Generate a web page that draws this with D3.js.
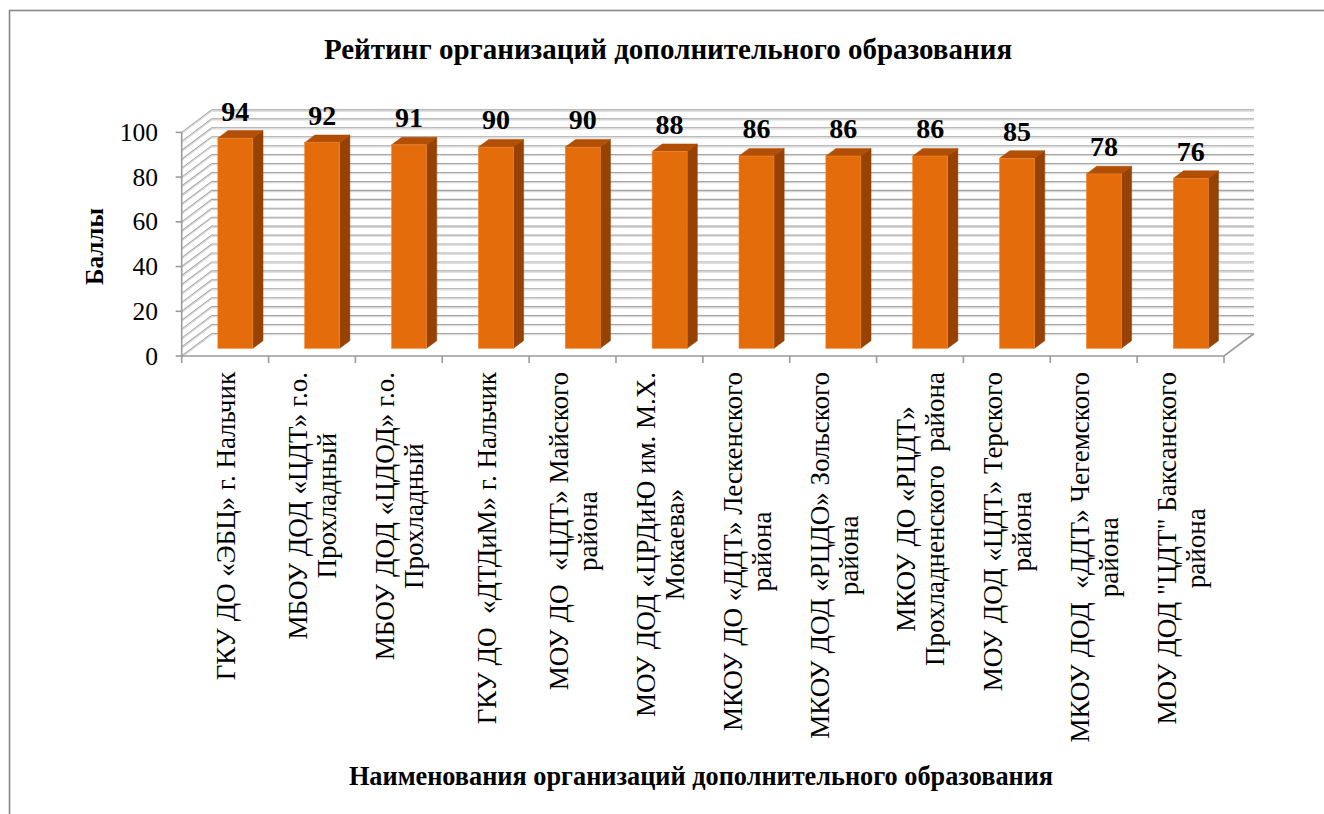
<!DOCTYPE html>
<html><head><meta charset="utf-8">
<script src="https://cdn.jsdelivr.net/npm/d3@7"></script>
<style>body{margin:0;background:#fff}</style>
</head><body><svg id="c" width="1324" height="814"></svg>
<script>
const categories = [
  "ГКУ ДО «ЭБЦ» г. Нальчик",
  "МБОУ ДОД «ЦДТ» г.о.\nПрохладный",
  "МБОУ ДОД «ЦДОД» г.о.\nПрохладный",
  "ГКУ ДО  «ДТДиМ» г. Нальчик",
  "МОУ ДО  «ЦДТ» Майского\nрайона",
  "МОУ ДОД «ЦРДиЮ им. М.Х.\nМокаева»",
  "МКОУ ДО «ДДТ» Лескенского\nрайона",
  "МКОУ ДОД «РЦДО» Зольского\nрайона",
  "МКОУ ДО «РЦДТ»\nПрохладненского  района",
  "МОУ ДОД «ЦДТ» Терского\nрайона",
  "МКОУ ДОД  «ДДТ» Чегемского\nрайона",
  "МОУ ДОД \"ЦДТ\" Баксанского\nрайона"
];
const values = [94, 92, 91, 90, 90, 88, 86, 86, 86, 85, 78, 76];
const yTicks = [0, 20, 40, 60, 80, 100];
const gridStep = 4;
const title = "Рейтинг организаций дополнительного образования";
const xTitle = "Наименования организаций дополнительного образования";
const yTitle = "Баллы";

const svg = d3.select("#c").attr("font-family", "'Liberation Serif'");
const X0 = 181.7, X1 = 1224, Y0 = 356, Y100 = 132.4;
const DX = 30, DY = -22.5;
const F1 = 0.34, F2 = 0.68;
const BW = 35;

const x = d3.scaleBand().domain(d3.range(categories.length)).range([X0, X1]).padding(0);
const y = d3.scaleLinear().domain([0, 100]).range([Y0, Y100]);

svg.append("rect").attr("x", 9.5).attr("y", 10.5).attr("width", 1340).attr("height", 900)
  .attr("fill", "none").attr("stroke", "#878787").attr("stroke-width", 1.6);

const gridVals = d3.range(0, 100 + 0.001, gridStep);
const g = svg.append("g");
gridVals.forEach(v => {
  const yf = y(v), yb = y(v) + DY;
  [[0, "#a4a4a4"], [1.2, "#d6d6d6"]].forEach(([o, c]) => {
    g.append("path").attr("d", `M${X0},${yf + o}L${X0 + DX},${yb + o}L${X1 + DX},${yb + o}`)
      .attr("fill", "none").attr("stroke", c).attr("stroke-width", 1.1);
  });
});
g.append("path").attr("d", `M${X0},${Y0}L${X1},${Y0}L${X1 + DX},${Y0 + DY}`)
  .attr("fill", "none").attr("stroke", "#9a9a9a").attr("stroke-width", 1.6);
g.append("line").attr("x1", X0).attr("x2", X0).attr("y1", Y100).attr("y2", Y0)
  .attr("stroke", "#9a9a9a").attr("stroke-width", 1.6);
yTicks.forEach(v => {
  g.append("line").attr("x1", X0 - 6).attr("x2", X0).attr("y1", y(v)).attr("y2", y(v))
    .attr("stroke", "#9a9a9a").attr("stroke-width", 1.6);
  svg.append("text").attr("x", 158).attr("y", y(v) + 8.5).attr("text-anchor", "end")
    .attr("font-size", 25.5).attr("fill", "#000").text(v);
});
d3.range(categories.length + 1).forEach(i => {
  const xx = X0 + i * x.step();
  g.append("line").attr("x1", xx).attr("x2", xx).attr("y1", Y0).attr("y2", Y0 + 7)
    .attr("stroke", "#9a9a9a").attr("stroke-width", 1.6);
});

const bars = svg.append("g");
values.forEach((v, i) => {
  const cx = x(i) + x.bandwidth() / 2;
  const fx = cx - BW / 2 + F1 * DX;
  const yB = y(0) + F1 * DY, yT = y(v) + F1 * DY;
  const bdx = (F2 - F1) * DX, bdy = (F2 - F1) * DY;
  bars.append("polygon").attr("points", [[fx + BW, yB], [fx + BW + bdx, yB + bdy], [fx + BW + bdx, yT + bdy], [fx + BW, yT]].join(" "))
    .attr("fill", "#974202").attr("stroke", "#8a3c02").attr("stroke-width", 0.5);
  bars.append("polygon").attr("points", [[fx, yT], [fx + bdx, yT + bdy], [fx + BW + bdx, yT + bdy], [fx + BW, yT]].join(" "))
    .attr("fill", "#b34f05").attr("stroke", "#a84a04").attr("stroke-width", 0.5);
  bars.append("rect").attr("x", fx).attr("y", yT).attr("width", BW).attr("height", yB - yT)
    .attr("fill", "#e46c0a").attr("stroke", "#f08a3a").attr("stroke-width", 0.6);
  svg.append("text").attr("x", fx + BW / 2).attr("y", yT + bdy - 10).attr("text-anchor", "middle")
    .attr("font-size", 28).attr("font-weight", "bold").attr("fill", "#000").text(v);
});

const FS = 27, LH = 29;
categories.forEach((c, i) => {
  const cx = x(i) + x.bandwidth() / 2;
  const lines = c.split("\n");
  const grp = svg.append("g").attr("transform", `translate(${cx},372) rotate(-90)`);
  const ts = lines.map((l, k) => grp.append("text").attr("text-anchor", "end")
    .attr("font-size", FS).attr("fill", "#000").style("white-space", "pre")
    .attr("y", 10 + (k - (lines.length - 1) / 2) * LH).text(l));
  const lens = ts.map(t => t.node().getComputedTextLength());
  const mx = d3.max(lens);
  ts.forEach((t, k) => t.attr("x", -(mx - lens[k]) / 2));
});

svg.append("text").attr("x", 668).attr("y", 59).attr("text-anchor", "middle")
  .attr("font-size", 29).attr("font-weight", "bold").text(title);
svg.append("text").attr("x", 701).attr("y", 785).attr("text-anchor", "middle")
  .attr("font-size", 26.3).attr("font-weight", "bold").text(xTitle);
svg.append("text").attr("transform", "translate(103,246.5) rotate(-90)").attr("text-anchor", "middle")
  .attr("font-size", 25).attr("font-weight", "bold").text(yTitle);
</script></body></html>
